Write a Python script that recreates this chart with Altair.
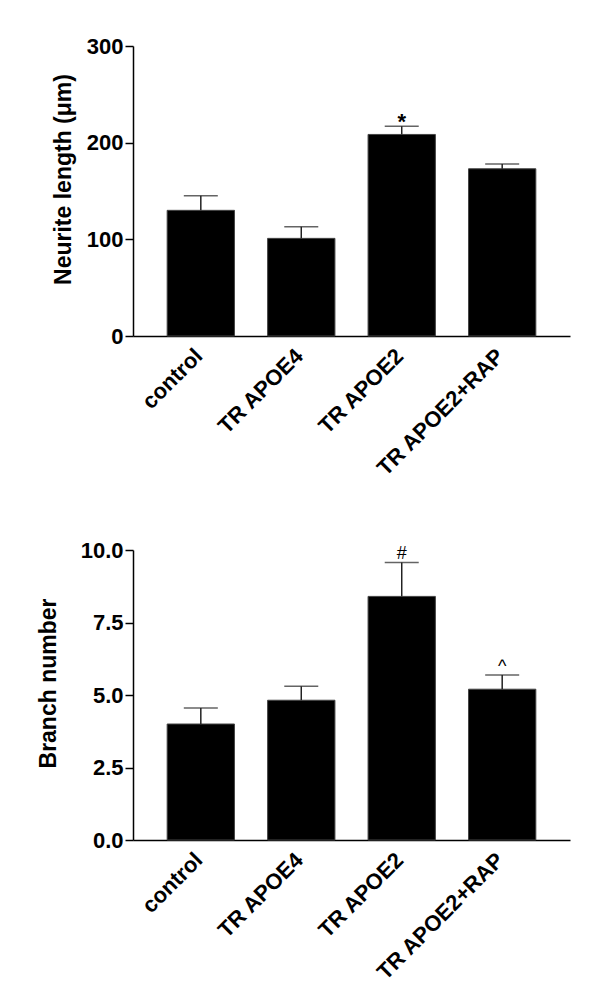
import altair as alt
import pandas as pd

groups = ["control", "TR APOE4", "TR APOE2", "TR APOE2+RAP"]
neurite_mean = [130, 101, 208.5, 173]
neurite_top = [145, 113, 217, 178]
neurite_mark = ["", "", "*", ""]
branch_mean = [4.0, 4.82, 8.4, 5.2]
branch_top = [4.55, 5.3, 9.57, 5.69]
branch_mark = ["", "", "#", "^"]

FONT = "Liberation Sans"

top_df = pd.DataFrame({"group": groups, "mean": neurite_mean, "top": neurite_top, "mark": neurite_mark})
bot_df = pd.DataFrame({"group": groups, "mean": branch_mean, "top": branch_top, "mark": branch_mark})


def panel(df, title, domain, tick_vals, fmt, title_pad):
    xenc = alt.X("group:N", sort=groups, title=None,
                 scale=alt.Scale(paddingInner=0.33, paddingOuter=0.34),
                 axis=alt.Axis(labelAngle=-45, ticks=False, labelPadding=9, labelOffset=-9,
                               labelFont=FONT, labelFontWeight="bold", labelFontSize=22,
                               labelColor="black", domainColor="black", domainWidth=1.5))
    yscale = alt.Scale(domain=domain, nice=False)
    yaxis = alt.Axis(values=tick_vals, format=fmt, grid=False, tickSize=8, tickWidth=1.5,
                     tickColor="black", domainColor="black", domainWidth=1.5,
                     labelFont=FONT, labelFontWeight="bold", labelFontSize=22, labelColor="black",
                     labelPadding=2, title=title, titleFont=FONT, titleFontWeight="bold",
                     titleFontSize=23, titleColor="black", titlePadding=title_pad, titleY=133)
    base = alt.Chart(df)
    xg = alt.X("group:N", sort=groups)
    bars = base.mark_bar(color="black", stroke="#444", strokeWidth=1).encode(
        x=xenc, y=alt.Y("mean:Q", scale=yscale, axis=yaxis))
    err = base.mark_rule(color="#222", strokeWidth=1.5).encode(x=xg, y="mean:Q", y2="top:Q")
    cap = base.mark_tick(color="#222", thickness=1.5, size=34, orient="horizontal").encode(
        x=xg, y="top:Q")
    sym = base.transform_filter("datum.mark != '*'").mark_text(
        font=FONT, fontSize=18, color="black", dy=-3, baseline="alphabetic").encode(
        x=xg, y="top:Q", text="mark:N")
    star = base.transform_filter("datum.mark == '*'").mark_text(
        font=FONT, fontSize=22, fontWeight="bold", color="black", dy=3, baseline="alphabetic").encode(
        x=xg, y="top:Q", text="mark:N")
    return (bars + err + cap + sym + star).properties(width=437, height=290)


top = panel(top_df, "Neurite length (\u03bcm)", [0, 300], [0, 100, 200, 300], "d", 11)
bottom = panel(bot_df, "Branch number", [0, 10], [0, 2.5, 5, 7.5, 10], ".1f", 20)

chart = alt.vconcat(top, bottom, spacing=59).properties(
    padding={"left": 29, "top": 27, "right": 5, "bottom": 0}
).configure_view(stroke=None)

chart.save("out.html", embed_options={"renderer": "svg", "actions": False})
